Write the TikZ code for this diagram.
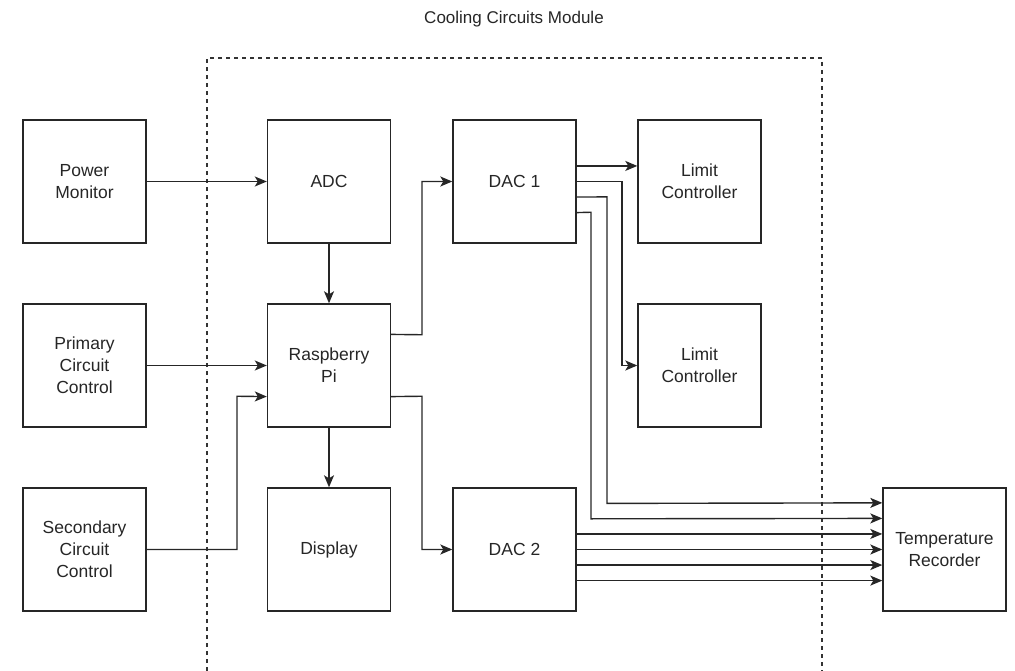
\documentclass[tikz,border=0pt]{standalone}
\usepackage{fontspec}
\setmainfont{Liberation Sans}
\usetikzlibrary{arrows.meta,calc}
\begin{document}
\begin{tikzpicture}[x=1pt,y=-1pt,
  blk/.style={draw=black!85, line width=1.4pt, minimum width=123pt, minimum height=123pt, align=center, font=\fontsize{17.5}{22}\selectfont, text=black!85, inner sep=0pt},
  conn/.style={line width=1.4pt, draw=black!85, -{Stealth[length=12pt,width=10pt,inset=3pt]}},
  frame/.style={line width=1.3pt, dash pattern=on 4pt off 4pt, draw=black!80}]
\useasboundingbox (0,0) rectangle (1015,671);
\node[font=\fontsize{17}{20}\selectfont, text=black!85] (title) at (514,19) {Cooling Circuits Module};
\coordinate (f1) at (207,671);
\coordinate (f2) at (207,58);
\coordinate (f3) at (822,58);
\coordinate (f4) at (822,671);
\draw[frame] (f1) -- (f2) -- (f3) -- (f4);
\node[blk] (pm) at (84.5,181.5) {Power\\Monitor};
\node[blk] (adc) at (329,181.5) {ADC};
\node[blk] (dac1) at (514.5,181.5) {DAC 1};
\node[blk] (lc1) at (699.5,181.5) {Limit\\Controller};
\node[blk] (pcc) at (84.5,365.5) {Primary\\Circuit\\Control};
\node[blk] (rpi) at (329,365.5) {Raspberry\\Pi};
\node[blk] (lc2) at (699.5,365.5) {Limit\\Controller};
\node[blk] (scc) at (84.5,549.5) {Secondary\\Circuit\\Control};
\node[blk] (disp) at (329,549.5) {Display};
\node[blk] (dac2) at (514.5,549.5) {DAC 2};
\node[blk] (tr) at (944.5,549.5) {Temperature\\Recorder};
% left column
\draw[conn] (pm.east) -- (adc.west);
\draw[conn] (adc.south) -- (rpi.north);
\draw[conn] (pcc.east) -- (rpi.west);
\draw[conn] (scc.east) -- (237,549.5) -- (237,396.25) -- ($(rpi.north west)!0.75!(rpi.south west)$);
\draw[conn] (rpi.south) -- (disp.north);
\draw[conn] ($(rpi.north east)!0.25!(rpi.south east)$) -- (422,334.75) -- (422,181.5) -- (dac1.west);
\draw[conn] ($(rpi.north east)!0.75!(rpi.south east)$) -- (422,396.25) -- (422,549.5) -- (dac2.west);
% DAC1 outputs
\draw[conn] ($(dac1.north east)!0.375!(dac1.south east)$) -- ($(lc1.north west)!0.375!(lc1.south west)$);
\draw[conn] (dac1.east) -- (622,181.5) -- (622,365.5) -- (lc2.west);
\draw[conn] ($(dac1.north east)!0.625!(dac1.south east)$) -- (607,196.9) -- (607,503.4) -- ($(tr.north west)!0.125!(tr.south west)$);
\draw[conn] ($(dac1.north east)!0.75!(dac1.south east)$) -- (591,212.25) -- (591,518.8) -- ($(tr.north west)!0.25!(tr.south west)$);
% DAC2 outputs
\foreach \f in {0.375,0.5,0.625,0.75} {
  \draw[conn] ($(dac2.north east)!\f!(dac2.south east)$) -- ($(tr.north west)!\f!(tr.south west)$);
}
\end{tikzpicture}
\end{document}
